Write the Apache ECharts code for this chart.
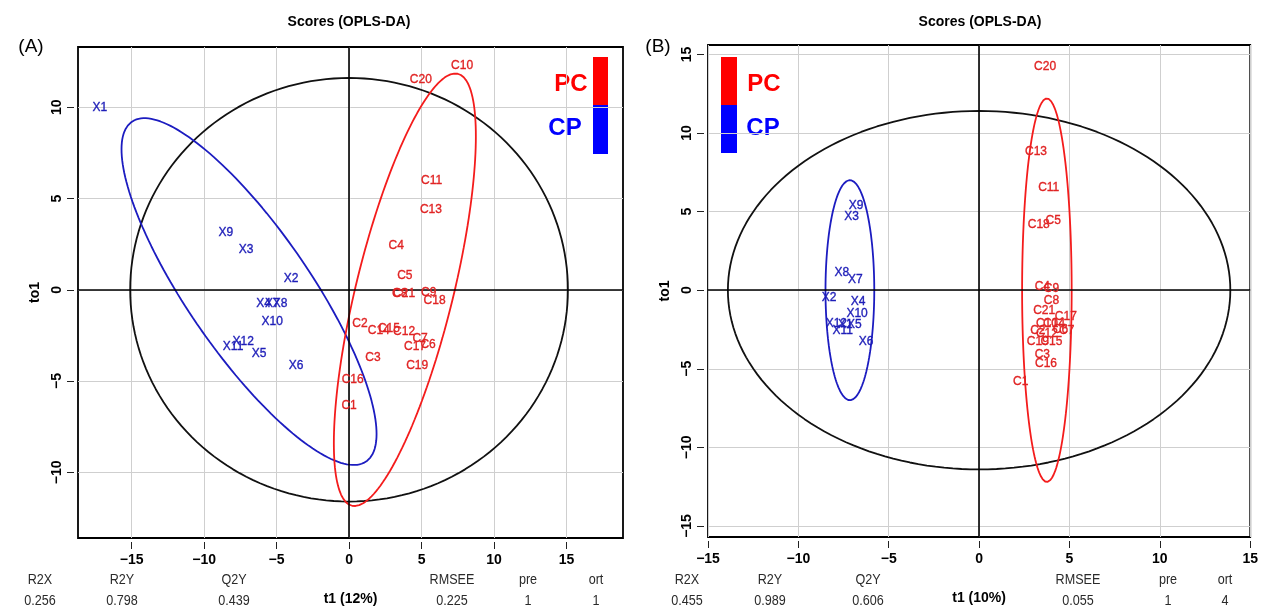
<!DOCTYPE html>
<html><head><meta charset="utf-8">
<script src="https://cdn.jsdelivr.net/npm/echarts@6/dist/echarts.min.js"></script>
<style>html,body{margin:0;padding:0;background:#fff}#c{width:1261px;height:611px}</style>
</head><body><div id="c"></div>
<script>
// ---------- tick labels ----------
const xTicksA = [-15, -10, -5, 0, 5, 10, 15];
const yTicksA = [-10, -5, 0, 5, 10];
const xTicksB = [-15, -10, -5, 0, 5, 10, 15];
const yTicksB = [-15, -10, -5, 0, 5, 10, 15];

// ---------- panel A scores ----------
const labelsCP_A = ['X1','X9','X3','X2','X4','X7','X8','X10','X12','X11','X5','X6'];
const t1CP_A  = [-17.2,-8.5,-7.1,-4.0,-5.9,-5.3,-4.75,-5.3,-7.3,-8.0,-6.2,-3.65];
const to1CP_A = [10.0,3.1,2.2,0.6,-0.77,-0.77,-0.77,-1.75,-2.85,-3.1,-3.5,-4.15];

const labelsPC_A = ['C10','C20','C11','C13','C4','C5','C8','C21','C9','C18','C2','C14','C15','C12','C7','C17','C6','C3','C19','C16','C1'];
const t1PC_A  = [7.8,4.95,5.7,5.65,3.25,3.85,3.5,3.8,5.5,5.9,0.75,2.05,2.75,3.8,4.9,4.55,5.45,1.65,4.7,0.25,0.0];
const to1PC_A = [12.25,11.5,6.0,4.4,2.4,0.75,-0.2,-0.2,-0.15,-0.6,-1.85,-2.25,-2.15,-2.3,-2.7,-3.1,-3.0,-3.7,-4.15,-4.9,-6.35];

// ---------- panel B scores ----------
const labelsCP_B = ['X9','X3','X8','X7','X2','X4','X10','X12','X1','X5','X11','X6'];
const t1CP_B  = [-6.8,-7.05,-7.6,-6.85,-8.3,-6.7,-6.75,-7.9,-7.4,-6.9,-7.55,-6.25];
const to1CP_B = [5.35,4.7,1.1,0.65,-0.45,-0.75,-1.5,-2.1,-2.2,-2.2,-2.55,-3.3];

const labelsPC_B = ['C20','C13','C11','C18','C5','C4','C9','C8','C21','C17','C10','C14','C7','C6','C2','C12','C19','C15','C3','C16','C1'];
const t1PC_B  = [3.65,3.15,3.85,3.3,4.1,3.5,4.0,4.0,3.6,4.8,3.75,4.15,4.85,4.5,3.25,3.75,3.25,4.0,3.5,3.7,2.3];
const to1PC_B = [14.2,8.8,6.55,4.15,4.4,0.25,0.1,-0.65,-1.3,-1.7,-2.1,-2.15,-2.55,-2.5,-2.6,-2.75,-3.3,-3.3,-4.1,-4.7,-5.85];

// ---------- ellipses: centre and covariance [sxx, sxy, syy] ----------
const ellCentreA = [[0, 0], [-6.9, -0.1], [3.85, 0]];
const ellCovA    = [[228, 0, 134.6], [77.4, -68.6, 90.25], [24.0, 41.2, 140.4]];
const ellCentreB = [[0, 0], [-7.15, 0], [3.75, 0]];
const ellCovB    = [[193.2, 0, 130], [1.82, 0, 49], [1.88, 0, 148.8]];

// ---------- model statistics ----------
const statNames = ['R2X', 'R2Y', 'Q2Y', 'RMSEE', 'pre', 'ort'];
const statValsA = ['0.256', '0.798', '0.439', '0.225', '1', '1'];
const statValsB = ['0.455', '0.989', '0.606', '0.055', '1', '4'];
const xNameA = 't1 (12%)';
const xNameB = 't1 (10%)';

const BLUE = '#1e1eb8', RED = '#e02424', BLUE_L = '#1c1cc0', RED_L = '#f41c1c';

function ellipse(c, s) {
  const l11 = Math.sqrt(s[0]), l21 = s[1] / l11, l22 = Math.sqrt(s[2] - l21 * l21);
  const pts = [];
  for (let i = 0; i <= 180; i++) {
    const t = i / 180 * 2 * Math.PI, u = Math.cos(t), v = Math.sin(t);
    pts.push([c[0] + l11 * u, c[1] + l21 * u + l22 * v]);
  }
  return pts;
}
function pts(labels, xs, ys) { return labels.map((n, i) => ({ name: n, value: [xs[i], ys[i]] })); }
const minus = v => String(v).replace('-', '\u2212');

function xAxis(gi, min, max, ticks, name) {
  return {
    gridIndex: gi, type: 'value', min, max, offset: 4, name, nameLocation: 'middle', nameGap: 50,
    nameTextStyle: { fontFamily: 'Liberation Sans', fontWeight: 'bold', fontSize: 14, color: '#000' },
    axisLine: { show: false, onZero: false },
    axisTick: { show: true, length: 7, customValues: ticks, lineStyle: { color: '#222', width: 1 } },
    axisLabel: { customValues: ticks, formatter: minus, margin: 11, fontFamily: 'Liberation Sans', fontWeight: 'bold', fontSize: 14, color: '#000' },
    splitLine: { show: true, lineStyle: { color: '#cfcfcf', width: 1 } }
  };
}
function yAxis(gi, min, max, ticks) {
  return {
    gridIndex: gi, type: 'value', min, max, offset: 4, name: 'to1', nameLocation: 'middle', nameGap: 32, nameRotate: 90,
    nameTextStyle: { fontFamily: 'Liberation Sans', fontWeight: 'bold', fontSize: 14, color: '#000' },
    axisLine: { show: false, onZero: false },
    axisTick: { show: true, length: 7, customValues: ticks, lineStyle: { color: '#222', width: 1 } },
    axisLabel: { customValues: ticks, formatter: minus, rotate: 90, margin: 10, fontFamily: 'Liberation Sans', fontWeight: 'bold', fontSize: 14, color: '#000' },
    splitLine: { show: true, lineStyle: { color: '#cfcfcf', width: 1 } }
  };
}
function labelSeries(gi, data, color) {
  return {
    type: 'scatter', xAxisIndex: gi, yAxisIndex: gi, data, symbolSize: 1, itemStyle: { color: 'rgba(0,0,0,0)' },
    label: { show: true, position: 'inside', formatter: '{b}', color, opacity: 1, textBorderColor: color, textBorderWidth: 0.35,
      fontFamily: 'Liberation Sans', fontSize: 12 },
    labelLayout: { hideOverlap: false },
    silent: true, z: 5
  };
}
function ellSeries(gi, c, s, color, w, withZero) {
  const o = {
    type: 'line', xAxisIndex: gi, yAxisIndex: gi, data: ellipse(c, s), symbol: 'none', smooth: false,
    lineStyle: { color, width: w }, silent: true, z: 3
  };
  if (withZero) o.markLine = { silent: true, symbol: 'none', label: { show: false },
    lineStyle: { color: '#000', width: 1.6, type: 'solid' }, data: [{ xAxis: 0 }, { yAxis: 0 }] };
  return o;
}

const statXA = [40, 122, 234, 452, 528, 596];
const statXB = [687, 770, 868, 1078, 1168, 1225];
const graphics = [];
function txt(x, y, text, style, extra) {
  graphics.push(Object.assign({ type: 'text', x, y, style: Object.assign({ text, textAlign: 'center', textVerticalAlign: 'middle',
    fontFamily: 'Liberation Sans', fontSize: 14, fill: '#000' }, style) }, extra || {}));
}
const narrow = { fontFamily: 'Liberation Sans', fontSize: 15, fill: '#2a2a2a' };
statNames.forEach((n, i) => {
  txt(statXA[i], 580, n, narrow, { scaleX: 0.84 });
  txt(statXA[i], 601, statValsA[i], narrow, { scaleX: 0.84 });
  txt(statXB[i], 580, n, narrow, { scaleX: 0.84 });
  txt(statXB[i], 601, statValsB[i], narrow, { scaleX: 0.84 });
});
txt(349, 22, 'Scores (OPLS-DA)', { fontWeight: 'bold', fontSize: 14 });
txt(980, 22, 'Scores (OPLS-DA)', { fontWeight: 'bold', fontSize: 14 });
txt(31, 47, '(A)', { fontSize: 19 });
txt(658, 47, '(B)', { fontSize: 19 });
// colour legends
graphics.push({ type: 'rect', shape: { x: 593, y: 57, width: 15, height: 48 }, style: { fill: '#ff0000' } });
graphics.push({ type: 'rect', shape: { x: 593, y: 105, width: 15, height: 49 }, style: { fill: '#0000ff' } });
graphics.push({ type: 'rect', shape: { x: 721, y: 57, width: 16, height: 48 }, style: { fill: '#ff0000' } });
graphics.push({ type: 'rect', shape: { x: 721, y: 105, width: 16, height: 48 }, style: { fill: '#0000ff' } });
txt(571, 84, 'PC', { fontWeight: 'bold', fontSize: 24, fill: '#ff0000' });
txt(565, 128, 'CP', { fontWeight: 'bold', fontSize: 24, fill: '#0000ff' });
txt(764, 84, 'PC', { fontWeight: 'bold', fontSize: 24, fill: '#ff0000' });
txt(763, 128, 'CP', { fontWeight: 'bold', fontSize: 24, fill: '#0000ff' });

const option = {
  animation: false,
  backgroundColor: '#fff',
  grid: [
    { left: 78, top: 47, width: 545, height: 493, show: true, borderColor: '#000', borderWidth: 1.8, backgroundColor: 'transparent' },
    { left: 708, top: 45, width: 544, height: 492, show: true, borderColor: '#000', borderWidth: 1.8, backgroundColor: 'transparent' }
  ],
  xAxis: [xAxis(0, -18.7, 18.9, xTicksA, xNameA), xAxis(1, -15, 15, xTicksB, xNameB)],
  yAxis: [yAxis(0, -13.6, 13.3, yTicksA), yAxis(1, -15.7, 15.6, yTicksB)],
  series: [
    ellSeries(0, ellCentreA[0], ellCovA[0], '#111', 1.8, true),
    ellSeries(0, ellCentreA[1], ellCovA[1], BLUE_L, 1.8, false),
    ellSeries(0, ellCentreA[2], ellCovA[2], RED_L, 1.8, false),
    labelSeries(0, pts(labelsCP_A, t1CP_A, to1CP_A), BLUE),
    labelSeries(0, pts(labelsPC_A, t1PC_A, to1PC_A), RED),
    ellSeries(1, ellCentreB[0], ellCovB[0], '#111', 1.8, true),
    ellSeries(1, ellCentreB[1], ellCovB[1], BLUE_L, 1.8, false),
    ellSeries(1, ellCentreB[2], ellCovB[2], RED_L, 1.8, false),
    labelSeries(1, pts(labelsCP_B, t1CP_B, to1CP_B), BLUE),
    labelSeries(1, pts(labelsPC_B, t1PC_B, to1PC_B), RED)
  ],
  graphic: graphics
};
echarts.init(document.getElementById('c'), null, { renderer: 'canvas' }).setOption(option);
</script></body></html>
